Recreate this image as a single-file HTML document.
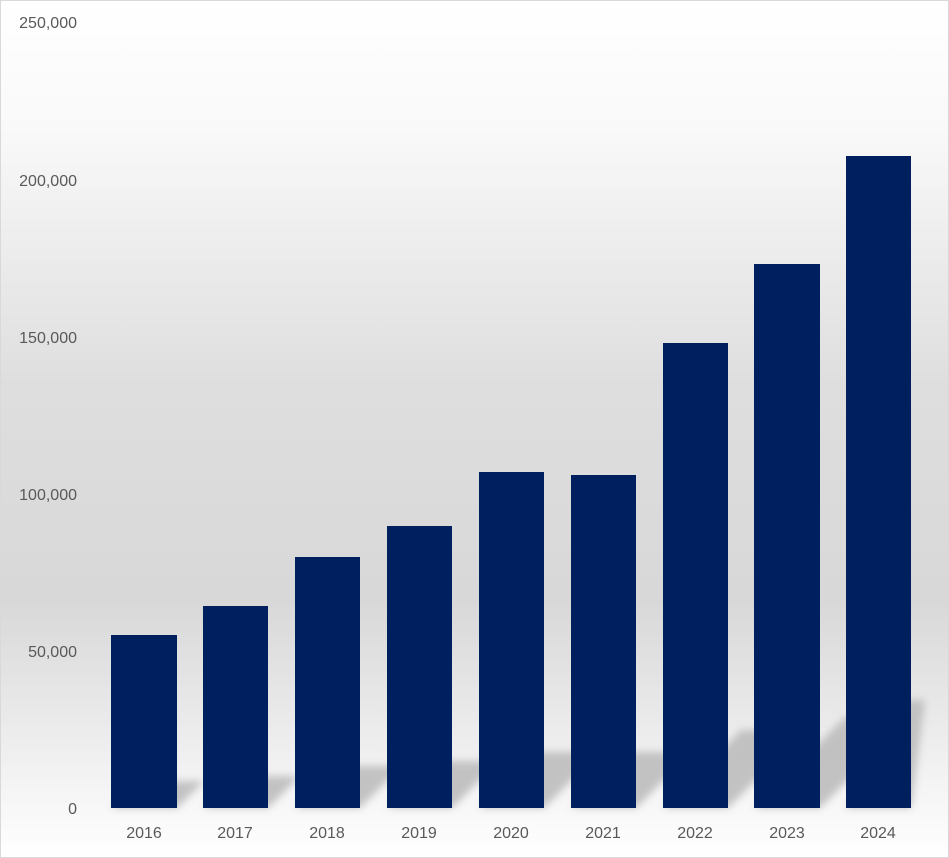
<!DOCTYPE html>
<html><head><style>
html,body{margin:0;padding:0;background:#fff}
</style></head><body>
<svg width="949" height="858" xmlns="http://www.w3.org/2000/svg" style="display:block">
<defs>
<linearGradient id="bg" x1="0" y1="0" x2="0" y2="1">
<stop offset="0" stop-color="#ffffff"/>
<stop offset="0.15" stop-color="#f9f9f9"/>
<stop offset="0.45" stop-color="#dedede"/>
<stop offset="0.7" stop-color="#d8d8d8"/>
<stop offset="0.9" stop-color="#f2f2f2"/>
<stop offset="1" stop-color="#ffffff"/>
</linearGradient>
<filter id="bl" x="-20%" y="-20%" width="140%" height="140%"><feGaussianBlur stdDeviation="4"/></filter>
</defs>
<rect x="0.5" y="0.5" width="948" height="857" fill="url(#bg)" stroke="#d9d9d9"/>
<g fill="#bdbdbd" filter="url(#bl)" opacity="0.9">
<polygon points="111,808 177,808 204,781 138,781"/>
<polygon points="203,808 268,808 300,776 235,776"/>
<polygon points="295,808 360,808 402,766 337,766"/>
<polygon points="387,808 452,808 499,761 434,761"/>
<polygon points="479,808 544,808 600,752 535,752"/>
<polygon points="571,808 636,808 692,752 627,752"/>
<polygon points="663,808 728,808 806,730 741,730"/>
<polygon points="754,808 820,808 911,717 845,717"/>
<polygon points="846,808 911,808 925,700 925,700 905,700"/>
</g>
<g fill="#001f5f">
<rect x="111" y="635" width="66" height="173"/>
<rect x="203" y="606" width="65" height="202"/>
<rect x="295" y="557" width="65" height="251"/>
<rect x="387" y="526" width="65" height="282"/>
<rect x="479" y="472" width="65" height="336"/>
<rect x="571" y="475" width="65" height="333"/>
<rect x="663" y="343" width="65" height="465"/>
<rect x="754" y="264" width="66" height="544"/>
<rect x="846" y="156" width="65" height="652"/>
</g>
<g font-family="Liberation Sans, sans-serif" font-size="16" fill="#595959" text-anchor="end">
<text x="77" y="28">250,000</text>
<text x="77" y="186">200,000</text>
<text x="77" y="343">150,000</text>
<text x="77" y="500">100,000</text>
<text x="77" y="657">50,000</text>
<text x="77" y="814">0</text>
</g>
<g font-family="Liberation Sans, sans-serif" font-size="16" fill="#595959" text-anchor="middle">
<text x="144" y="838">2016</text>
<text x="235" y="838">2017</text>
<text x="327" y="838">2018</text>
<text x="419" y="838">2019</text>
<text x="511" y="838">2020</text>
<text x="603" y="838">2021</text>
<text x="695" y="838">2022</text>
<text x="787" y="838">2023</text>
<text x="878" y="838">2024</text>
</g>
</svg>
</body></html>
